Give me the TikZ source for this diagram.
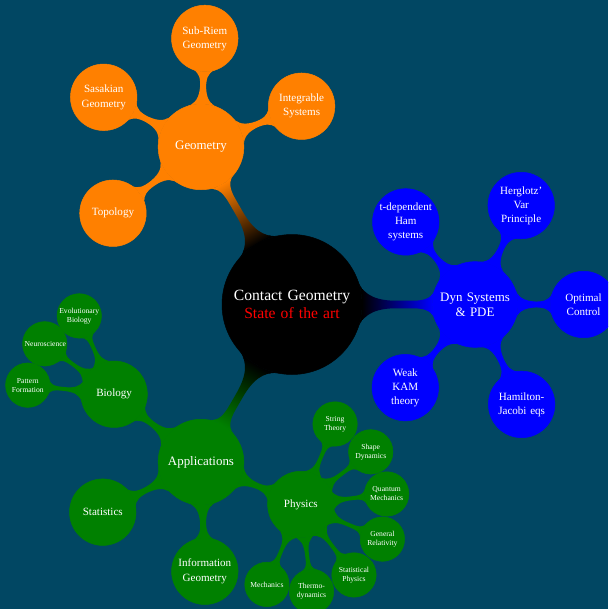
\documentclass[tikz,border=0pt]{standalone}
\usepackage{fontspec}
\setmainfont{Liberation Serif}
\usetikzlibrary{mindmap, calc}

\definecolor{bgblue}{RGB}{1,71,99}
\pgfdeclarelayer{back}
\pgfdeclarelayer{bars}
\pgfsetlayers{back,bars,main}

\begin{document}
\begin{tikzpicture}[
        mindmap,
        rootconcept/.style={concept, concept color=black, text=white, align=center, inner sep=0pt, minimum size=4cm, text width=3.4cm, font=\fontsize{12.7}{15}\selectfont},
        mainconcept/.style={concept, text=white, align=center, inner sep=0pt, minimum size=2.45cm, text width=2.1cm, font=\fontsize{10.5}{12.5}\selectfont},
        subconcept/.style={concept, text=white, align=center, inner sep=0pt, minimum size=1.9cm, text width=1.55cm, font=\fontsize{9}{11.5}\selectfont},
        leafconcept/.style={concept, text=white, align=center, inner sep=0pt, minimum size=1.27cm, text width=1.15cm, font=\fontsize{6.2}{7.3}\selectfont}
    ]
        % BACKGROUND
        \begin{pgfonlayer}{back}
        \fill[bgblue] (-8.343,-8.70) rectangle (9.029,8.70);
        \end{pgfonlayer}
        \clip (-8.343,-8.70) rectangle (9.029,8.70);

        % ROOT
        \node[rootconcept] (root) at (0,0) {Contact Geometry\\\textcolor{red}{State of the art}};

        % GEOMETRY
        \node[mainconcept, concept color=orange] (geo) at (120:5.2) {Geometry};
        \node[subconcept, concept color=orange] (subriem) at ($(geo)+(88:3.1)$) {Sub-Riem\\Geometry};
        \node[subconcept, concept color=orange] (integ) at ($(geo)+(22:3.1)$) {Integrable\\Systems};
        \node[subconcept, concept color=orange] (sasak) at ($(geo)+(153:3.12)$) {Sasakian\\Geometry};
        \node[subconcept, concept color=orange] (topo) at ($(geo)+(217:3.15)$) {Topology};

        % DYN SYSTEMS
        \node[mainconcept, concept color=blue] (dyn) at (0:5.23) {Dyn Systems\\\& PDE};
        \node[subconcept, concept color=blue] (tdep) at ($(dyn)+(130:3.08)$) {t-dependent\\Ham\\systems};
        \node[subconcept, concept color=blue] (herg) at ($(dyn)+(65:3.12)$) {Herglotz'\\Var\\Principle};
        \node[subconcept, concept color=blue] (optc) at ($(dyn)+(0:3.1)$) {Optimal\\Control};
        \node[subconcept, concept color=blue] (hj) at ($(dyn)+(-65:3.15)$) {Hamilton-\\Jacobi eqs};
        \node[subconcept, concept color=blue] (kam) at ($(dyn)+(-130:3.1)$) {Weak\\KAM\\theory};

        % APPLICATIONS
        \node[mainconcept, concept color=green!50!black] (app) at (240:5.2) {Applications};
        \node[subconcept, concept color=green!50!black] (bio) at ($(app)+(142:3.15)$) {Biology};
        \node[subconcept, concept color=green!50!black] (stat) at ($(app)+(207:3.15)$) {Statistics};
        \node[subconcept, concept color=green!50!black] (info) at ($(app)+(272:3.12)$) {Information\\Geometry};
        \node[subconcept, concept color=green!50!black] (phys) at ($(app)+(337:3.1)$) {Physics};

        \node[leafconcept, concept color=green!50!black] (evol) at ($(bio)+(114:2.45)$) {Evolutionary\\Biology};
        \node[leafconcept, concept color=green!50!black] (neuro) at ($(bio)+(144:2.45)$) {Neuroscience};
        \node[leafconcept, concept color=green!50!black] (pattern) at ($(bio)+(174:2.48)$) {Pattern\\Formation};

        \node[leafconcept, concept color=green!50!black] (string) at ($(phys)+(67:2.5)$) {String\\Theory};
        \node[leafconcept, concept color=green!50!black] (shape) at ($(phys)+(37:2.5)$) {Shape\\Dynamics};
        \node[leafconcept, concept color=green!50!black] (quantum) at ($(phys)+(7:2.47)$) {Quantum\\Mechanics};
        \node[leafconcept, concept color=green!50!black] (genrel) at ($(phys)+(-23:2.53)$) {General\\Relativity};
        \node[leafconcept, concept color=green!50!black] (statphys) at ($(phys)+(-53:2.52)$) {Statistical\\Physics};
        \node[leafconcept, concept color=green!50!black] (thermo) at ($(phys)+(-83:2.5)$) {Thermo-\\dynamics};
        \node[leafconcept, concept color=green!50!black] (mech) at ($(phys)+(-113:2.48)$) {Mechanics};

        % CONNECTIONS
        \begin{pgfonlayer}{bars}
        \path (root) to[circle connection bar switch color=from (black) to (orange)] (geo);
        \path (root) to[circle connection bar switch color=from (black) to (blue)] (dyn);
        \path (root) to[circle connection bar switch color=from (black) to (green!50!black)] (app);

        \path (geo) to[circle connection bar switch color=from (orange) to (orange)] (subriem);
        \path (geo) to[circle connection bar switch color=from (orange) to (orange)] (integ);
        \path (geo) to[circle connection bar switch color=from (orange) to (orange)] (sasak);
        \path (geo) to[circle connection bar switch color=from (orange) to (orange)] (topo);

        \path (dyn) to[circle connection bar switch color=from (blue) to (blue)] (tdep);
        \path (dyn) to[circle connection bar switch color=from (blue) to (blue)] (herg);
        \path (dyn) to[circle connection bar switch color=from (blue) to (blue)] (optc);
        \path (dyn) to[circle connection bar switch color=from (blue) to (blue)] (hj);
        \path (dyn) to[circle connection bar switch color=from (blue) to (blue)] (kam);

        \path (app) to[circle connection bar switch color=from (green!50!black) to (green!50!black)] (bio);
        \path (app) to[circle connection bar switch color=from (green!50!black) to (green!50!black)] (stat);
        \path (app) to[circle connection bar switch color=from (green!50!black) to (green!50!black)] (info);
        \path (app) to[circle connection bar switch color=from (green!50!black) to (green!50!black)] (phys);

        \path (bio) to[circle connection bar switch color=from (green!50!black) to (green!50!black)] (evol);
        \path (bio) to[circle connection bar switch color=from (green!50!black) to (green!50!black)] (neuro);
        \path (bio) to[circle connection bar switch color=from (green!50!black) to (green!50!black)] (pattern);

        \path (phys) to[circle connection bar switch color=from (green!50!black) to (green!50!black)] (string);
        \path (phys) to[circle connection bar switch color=from (green!50!black) to (green!50!black)] (shape);
        \path (phys) to[circle connection bar switch color=from (green!50!black) to (green!50!black)] (quantum);
        \path (phys) to[circle connection bar switch color=from (green!50!black) to (green!50!black)] (genrel);
        \path (phys) to[circle connection bar switch color=from (green!50!black) to (green!50!black)] (statphys);
        \path (phys) to[circle connection bar switch color=from (green!50!black) to (green!50!black)] (thermo);
        \path (phys) to[circle connection bar switch color=from (green!50!black) to (green!50!black)] (mech);
        \end{pgfonlayer}
    \end{tikzpicture}
\end{document}
